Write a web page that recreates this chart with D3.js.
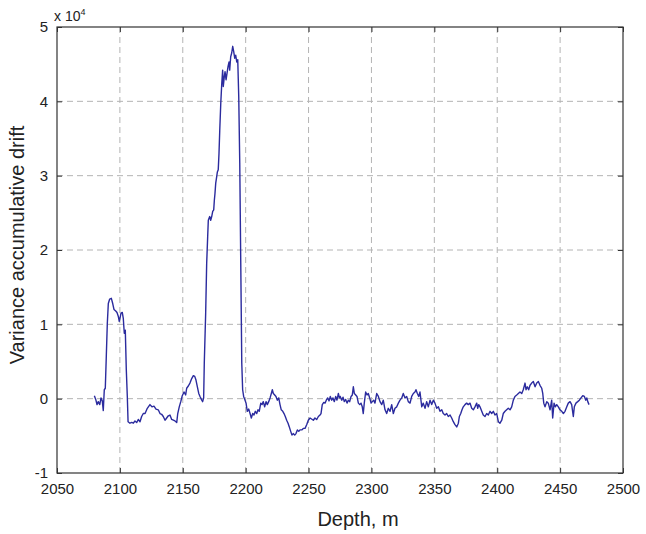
<!DOCTYPE html>
<html>
<head>
<meta charset="utf-8">
<script src="https://cdn.jsdelivr.net/npm/d3@7/dist/d3.min.js"></script>
<style>
  html, body { margin: 0; padding: 0; background: #fff; }
  svg { display: block; font-family: "Liberation Sans", Arial, sans-serif; }
</style>
</head>
<body>
<svg id="chart" width="646" height="534"></svg>
<script>
// Depth samples (m)
const depth = [
  2079.7,2080.8,2081.8,2082.8,2084.0,2085.0,2086.0,2086.8,2087.6,2088.4,
  2089.2,2090.0,2090.8,2091.9,2093.2,2094.3,2095.3,2096.7,2097.7,2098.7,
  2099.5,2100.3,2100.9,2101.9,2102.7,2103.5,2104.3,2105.1,2105.9,2106.5,
  2108.0,2109.4,2110.7,2112.0,2113.4,2114.6,2116.0,2117.3,2118.6,2120.0,
  2121.8,2123.9,2125.5,2127.1,2128.7,2130.5,2131.9,2133.2,2134.5,2135.9,
  2137.2,2138.5,2139.8,2141.2,2142.5,2143.8,2145.2,2146.0,2147.2,2148.4,
  2149.6,2151.0,2152.3,2153.1,2154.4,2155.7,2157.1,2158.4,2159.5,2160.5,
  2161.6,2162.7,2163.7,2165.1,2165.8,2166.6,2167.1,2168.2,2169.0,2169.8,
  2170.3,2171.4,2172.2,2173.0,2173.8,2174.6,2175.1,2175.6,2176.2,2177.0,
  2177.5,2178.2,2178.8,2179.4,2180.2,2181.0,2181.7,2182.2,2183.0,2183.6,
  2184.4,2185.2,2186.0,2186.8,2187.3,2188.1,2188.9,2189.7,2190.5,2191.3,
  2192.1,2192.9,2193.7,2194.5,2195.3,2196.1,2196.9,2197.6,2198.4,2200.3,
  2201.3,2202.4,2203.5,2204.5,2205.6,2206.6,2207.7,2208.8,2209.8,2210.8,
  2212.0,2213.0,2214.0,2215.1,2216.2,2217.2,2218.3,2219.4,2220.4,2221.2,
  2222.0,2223.1,2224.1,2225.2,2226.3,2227.3,2228.3,2229.5,2230.5,2231.5,
  2232.6,2233.7,2234.7,2235.8,2236.8,2237.9,2239.0,2240.0,2241.1,2242.2,
  2243.2,2244.6,2245.8,2247.2,2248.5,2249.8,2251.2,2253.8,2255.1,2256.5,
  2257.8,2259.1,2259.9,2260.9,2262.1,2263.1,2264.1,2265.2,2266.3,2267.3,
  2268.4,2269.4,2270.5,2271.6,2272.6,2273.7,2274.5,2275.2,2276.4,2277.4,
  2278.4,2279.5,2280.6,2281.6,2282.7,2283.8,2284.8,2285.6,2286.4,2287.5,
  2288.5,2289.6,2290.7,2291.7,2292.7,2293.5,2294.3,2295.4,2296.5,2297.5,
  2298.6,2299.7,2300.7,2301.8,2302.8,2304.2,2305.5,2306.8,2308.2,2309.4,
  2310.8,2312.1,2313.4,2314.8,2316.1,2317.4,2318.7,2320.1,2321.4,2322.7,
  2324.1,2325.3,2326.7,2328.0,2329.3,2330.7,2332.0,2333.3,2334.6,2335.4,
  2336.5,2337.6,2338.6,2340.0,2341.2,2342.6,2343.9,2345.2,2346.6,2347.9,
  2349.2,2350.5,2351.9,2353.2,2354.5,2355.9,2357.1,2358.5,2359.8,2361.1,
  2362.5,2363.8,2365.1,2366.4,2367.8,2369.1,2369.9,2371.0,2372.0,2373.0,
  2374.4,2375.7,2377.0,2378.4,2379.7,2381.0,2382.3,2383.7,2384.5,2385.3,
  2386.3,2387.7,2388.9,2390.3,2391.6,2392.9,2394.3,2395.6,2396.9,2398.2,
  2399.6,2400.9,2402.2,2403.6,2404.8,2406.2,2407.5,2408.8,2410.2,2411.5,
  2412.8,2414.1,2415.5,2416.8,2418.1,2419.5,2420.7,2422.1,2422.9,2423.9,
  2425.0,2426.1,2427.4,2428.7,2430.1,2431.4,2432.7,2434.0,2435.4,2436.2,
  2437.0,2438.0,2439.4,2440.6,2442.0,2443.3,2444.1,2445.2,2446.2,2447.3,
  2448.6,2449.9,2451.3,2452.6,2453.9,2455.3,2456.5,2457.9,2459.2,2460.5,
  2461.3,2462.6,2464.0,2465.3,2466.6,2468.0,2469.3,2470.4,2471.2,2472.0,
  2473.0
];

// Variance accumulative drift, in units of 10^4
const drift = [
  0.04,-0.01,-0.08,-0.04,-0.08,0.01,-0.03,-0.16,0.12,0.14,
  0.57,1.01,1.28,1.34,1.35,1.28,1.20,1.18,1.16,1.11,
  1.04,1.10,1.15,1.16,1.08,0.88,0.92,0.39,0.03,-0.31,
  -0.33,-0.32,-0.33,-0.30,-0.32,-0.28,-0.31,-0.24,-0.20,-0.20,
  -0.13,-0.08,-0.11,-0.10,-0.14,-0.15,-0.20,-0.21,-0.24,-0.29,
  -0.26,-0.23,-0.22,-0.28,-0.29,-0.30,-0.32,-0.20,-0.11,-0.04,
  0.04,0.09,0.05,0.14,0.17,0.21,0.27,0.31,0.30,0.25,
  0.16,0.07,0.03,-0.02,-0.04,0.01,0.48,1.15,1.82,2.18,
  2.40,2.45,2.40,2.45,2.52,2.54,2.67,2.76,2.90,2.99,
  3.05,3.08,3.30,3.61,3.97,4.24,4.42,4.20,4.33,4.40,
  4.29,4.38,4.47,4.53,4.42,4.60,4.65,4.74,4.67,4.58,
  4.62,4.53,4.56,4.06,3.17,1.82,0.48,0.12,0.03,-0.06,
  -0.17,-0.14,-0.20,-0.26,-0.20,-0.22,-0.17,-0.20,-0.15,-0.17,
  -0.06,-0.08,-0.04,-0.11,-0.04,-0.08,-0.04,0.01,0.07,0.12,
  0.07,0.05,0.03,-0.02,0.01,-0.08,-0.15,-0.17,-0.20,-0.24,
  -0.29,-0.33,-0.38,-0.44,-0.49,-0.47,-0.49,-0.47,-0.42,-0.44,
  -0.42,-0.42,-0.40,-0.40,-0.35,-0.29,-0.26,-0.29,-0.26,-0.28,
  -0.24,-0.22,-0.20,-0.08,-0.05,-0.06,-0.02,0.01,-0.03,0.03,
  -0.02,0.01,-0.04,0.03,-0.02,0.07,0.01,0.03,-0.02,0.02,
  -0.04,-0.01,-0.06,-0.02,-0.04,0.03,0.05,0.16,0.07,0.05,
  0.03,-0.06,-0.08,-0.06,-0.11,-0.20,-0.06,0.09,0.05,0.07,
  0.01,-0.06,-0.04,-0.02,-0.06,0.07,0.03,-0.04,-0.08,-0.02,
  -0.15,-0.20,-0.13,-0.17,-0.08,-0.20,-0.13,-0.11,-0.06,-0.02,
  0.01,0.07,0.01,0.03,-0.04,-0.06,0.03,0.07,0.09,0.12,
  0.07,0.03,0.09,-0.11,-0.06,-0.13,-0.04,-0.11,-0.02,-0.08,
  -0.02,-0.06,-0.13,-0.11,-0.17,-0.15,-0.20,-0.22,-0.20,-0.24,
  -0.22,-0.26,-0.31,-0.35,-0.38,-0.33,-0.24,-0.20,-0.15,-0.11,
  -0.08,-0.06,-0.08,-0.06,-0.13,-0.15,-0.11,-0.06,-0.13,-0.08,
  -0.11,-0.17,-0.22,-0.24,-0.20,-0.22,-0.17,-0.20,-0.17,-0.22,
  -0.20,-0.31,-0.33,-0.29,-0.20,-0.17,-0.15,-0.13,-0.15,-0.11,
  -0.02,0.03,0.05,0.07,0.09,0.07,0.12,0.21,0.12,0.16,
  0.12,0.18,0.21,0.23,0.16,0.21,0.23,0.18,0.14,0.07,
  -0.06,-0.11,-0.04,-0.06,-0.15,-0.02,-0.26,-0.06,-0.11,-0.08,
  -0.11,-0.15,-0.17,-0.20,-0.17,-0.11,-0.06,-0.04,-0.08,-0.24,
  -0.11,-0.06,-0.04,-0.02,0.01,0.04,0.03,-0.02,0.01,-0.04,
  -0.08
];

const xTicks = [2050, 2100, 2150, 2200, 2250, 2300, 2350, 2400, 2450, 2500];
const yTicks = [-1, 0, 1, 2, 3, 4, 5];

const margin = { left: 57, right: 23, top: 27, bottom: 61 };
const W = 646, H = 534;
const iw = W - margin.left - margin.right;
const ih = H - margin.top - margin.bottom;

const svg = d3.select("#chart");
const g = svg.append("g").attr("transform", `translate(${margin.left},${margin.top})`);

const x = d3.scaleLinear().domain([2050, 2500]).range([0, iw]);
const y = d3.scaleLinear().domain([-1, 5]).range([ih, 0]);

// Dashed grid
g.append("g").selectAll("line.gx").data(xTicks.slice(1, -1)).join("line")
  .attr("x1", d => x(d)).attr("x2", d => x(d))
  .attr("y1", 0).attr("y2", ih)
  .attr("stroke", "#b4b4b4").attr("stroke-width", 1)
  .attr("stroke-dasharray", "6,4");
g.append("g").selectAll("line.gy").data(yTicks.slice(1, -1)).join("line")
  .attr("y1", d => y(d)).attr("y2", d => y(d))
  .attr("x1", 0).attr("x2", iw)
  .attr("stroke", "#b4b4b4").attr("stroke-width", 1)
  .attr("stroke-dasharray", "6,4");

// Data line
const pts = depth.map((d, i) => [d, drift[i]]);
g.append("path").datum(pts)
  .attr("fill", "none")
  .attr("stroke", "#2b2b9e")
  .attr("stroke-width", 1.4)
  .attr("stroke-linejoin", "round")
  .attr("d", d3.line().x(d => x(d[0])).y(d => y(d[1])));

// Axes with inward ticks; plain hyphen for negatives
const plain = d => String(d);
const xAxis = d3.axisBottom(x).tickValues(xTicks).tickSize(-5).tickPadding(10).tickFormat(plain);
const yAxis = d3.axisLeft(y).tickValues(yTicks).tickSize(-5).tickPadding(9).tickFormat(plain);

const gx = g.append("g").attr("transform", `translate(0,${ih})`).call(xAxis);
const gy = g.append("g").call(yAxis);
// matching inward ticks on top and right edges
g.append("g").call(d3.axisTop(x).tickValues(xTicks).tickSize(-5).tickFormat(""));
g.append("g").attr("transform", `translate(${iw},0)`).call(d3.axisRight(y).tickValues(yTicks).tickSize(-5).tickFormat(""));

g.selectAll(".domain").remove();
g.selectAll(".tick line").attr("stroke", "#333");
[gx, gy].forEach(a => a.selectAll("text").attr("font-size", 15).attr("fill", "#222")
  .attr("font-family", "'Liberation Sans', Arial, sans-serif"));

// Frame
g.append("rect").attr("x", 0).attr("y", 0).attr("width", iw).attr("height", ih)
  .attr("fill", "none").attr("stroke", "#333").attr("stroke-width", 1.2);

// Exponent marker
const exp = svg.append("text").attr("x", 54).attr("y", 21)
  .attr("font-size", 14).attr("fill", "#222");
exp.append("tspan").text("x 10");
exp.append("tspan").attr("font-size", 9).attr("dy", -6).text("4");

// Axis titles
svg.append("text").attr("x", 358).attr("y", 526)
  .attr("text-anchor", "middle").attr("font-size", 20).attr("fill", "#222")
  .text("Depth, m");
svg.append("text")
  .attr("transform", `translate(24,245) rotate(-90)`)
  .attr("text-anchor", "middle").attr("font-size", 20).attr("fill", "#222")
  .text("Variance accumulative drift");
</script>
</body>
</html>
